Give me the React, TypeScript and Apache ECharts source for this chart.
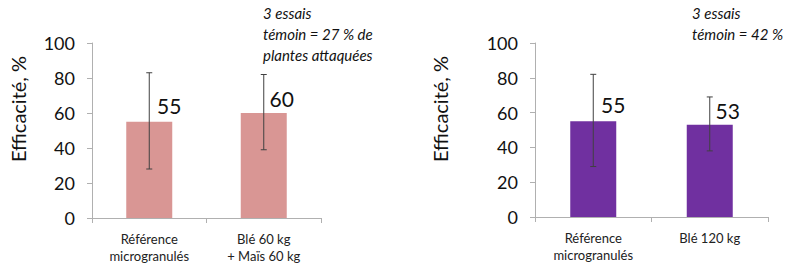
import React, { useEffect, useRef } from "react";
import * as echarts from "echarts";

const categoriesLeft = ["Référence\nmicrogranulés", "Blé 60 kg\n+ Maïs 60 kg"];
const valuesLeft = [55, 60];
const errLowLeft = [28, 39];
const errHighLeft = [83, 82];

const categoriesRight = ["Référence\nmicrogranulés", "Blé 120 kg"];
const valuesRight = [55, 53];
const errLowRight = [29, 38];
const errHighRight = [82, 69];

const yTicks = [0, 20, 40, 60, 80, 100];
const yAxisTitle = "Efficacité, %";
const noteLeft = ["3 essais", "témoin = 27 % de", "plantes attaquées"];
const noteRight = ["3 essais", "témoin = 42 %"];

const FONT = "Lato, 'Open Sans', sans-serif";
const AXIS_COLOR = "#b0b0b0";

function errorSeries(gridIdx: number, low: number[], high: number[]) {
  return {
    type: "custom",
    xAxisIndex: gridIdx,
    yAxisIndex: gridIdx,
    z: 5,
    data: low.map((l, i) => [i, l, high[i]]),
    renderItem: (params: any, api: any) => {
      const i = api.value(0);
      const lo = api.coord([i, api.value(1)]);
      const hi = api.coord([i, api.value(2)]);
      const cap = 3;
      const st = { stroke: "#404040", lineWidth: 1 };
      return {
        type: "group",
        children: [
          { type: "line", shape: { x1: lo[0], y1: lo[1], x2: hi[0], y2: hi[1] }, style: st },
          { type: "line", shape: { x1: hi[0] - cap, y1: hi[1], x2: hi[0] + cap, y2: hi[1] }, style: st },
          { type: "line", shape: { x1: lo[0] - cap, y1: lo[1], x2: lo[0] + cap, y2: lo[1] }, style: st },
        ],
      };
    },
  };
}

function xAxis(gridIndex: number, cats: string[]) {
  return {
    type: "category",
    gridIndex,
    data: cats,
    boundaryGap: true,
    axisLine: { lineStyle: { color: AXIS_COLOR } },
    axisTick: { show: true, length: 5, lineStyle: { color: AXIS_COLOR } },
    axisLabel: { fontFamily: FONT, fontSize: 13, color: "#222", lineHeight: 17, margin: 12 },
  };
}

function yAxis(gridIndex: number) {
  return {
    type: "value",
    gridIndex,
    min: yTicks[0],
    max: yTicks[yTicks.length - 1],
    interval: 20,
    axisLine: { show: true, lineStyle: { color: AXIS_COLOR } },
    axisTick: { show: true, length: 5, lineStyle: { color: AXIS_COLOR } },
    splitLine: { show: false },
    axisLabel: { fontFamily: FONT, fontSize: 18, color: "#111", margin: 17 },
  };
}

function barSeries(gridIdx: number, vals: number[], color: string, offsets: number[][]) {
  return {
    type: "bar",
    xAxisIndex: gridIdx,
    yAxisIndex: gridIdx,
    barWidth: 46,
    z: 2,
    data: vals.map((v, i) => ({
      value: v,
      label: { offset: offsets[i] },
    })),
    itemStyle: { color },
    label: {
      show: true,
      position: "top",
      fontFamily: FONT,
      fontSize: 21,
      color: "#111",
    },
  };
}

function noteText(x: number, lines: string[]) {
  return lines.map((t, i) => ({
    type: "text",
    x,
    y: 13 + i * 21,
    style: {
      text: t,
      fontFamily: FONT,
      fontStyle: "italic",
      fontSize: 15,
      fill: "#111",
      textAlign: "left",
      textVerticalAlign: "middle",
    },
  }));
}

export default function App() {
  const ref = useRef<HTMLDivElement>(null);
  useEffect(() => {
    const chart = echarts.init(ref.current!, null, { renderer: "svg" });
    chart.setOption({
      animation: false,
      grid: [
        { left: 92, right: 479, top: 43, bottom: 50 },
        { left: 535, right: 32, top: 43, bottom: 51 },
      ],
      xAxis: [xAxis(0, categoriesLeft), xAxis(1, categoriesRight)],
      yAxis: [yAxis(0), yAxis(1)],
      series: [
        barSeries(0, valuesLeft, "#d99694", [[20, -1], [18, 1]]),
        errorSeries(0, errLowLeft, errHighLeft),
        barSeries(1, valuesRight, "#7030a0", [[20, -1], [18, 1]]),
        errorSeries(1, errLowRight, errHighRight),
      ],
      graphic: [
        {
          type: "text",
          x: 18,
          y: 109,
          rotation: Math.PI / 2,
          style: { text: yAxisTitle, fontFamily: FONT, fontSize: 20, fill: "#111", textAlign: "center", textVerticalAlign: "middle" },
        },
        {
          type: "text",
          x: 440,
          y: 109,
          rotation: Math.PI / 2,
          style: { text: yAxisTitle, fontFamily: FONT, fontSize: 20, fill: "#111", textAlign: "center", textVerticalAlign: "middle" },
        },
        ...noteText(263, noteLeft),
        ...noteText(692, noteRight),
      ],
    });
    return () => chart.dispose();
  }, []);
  return <div ref={ref} style={{ position: "fixed", left: 0, top: 0, width: 800, height: 268, background: "#fff" }} />;
}
